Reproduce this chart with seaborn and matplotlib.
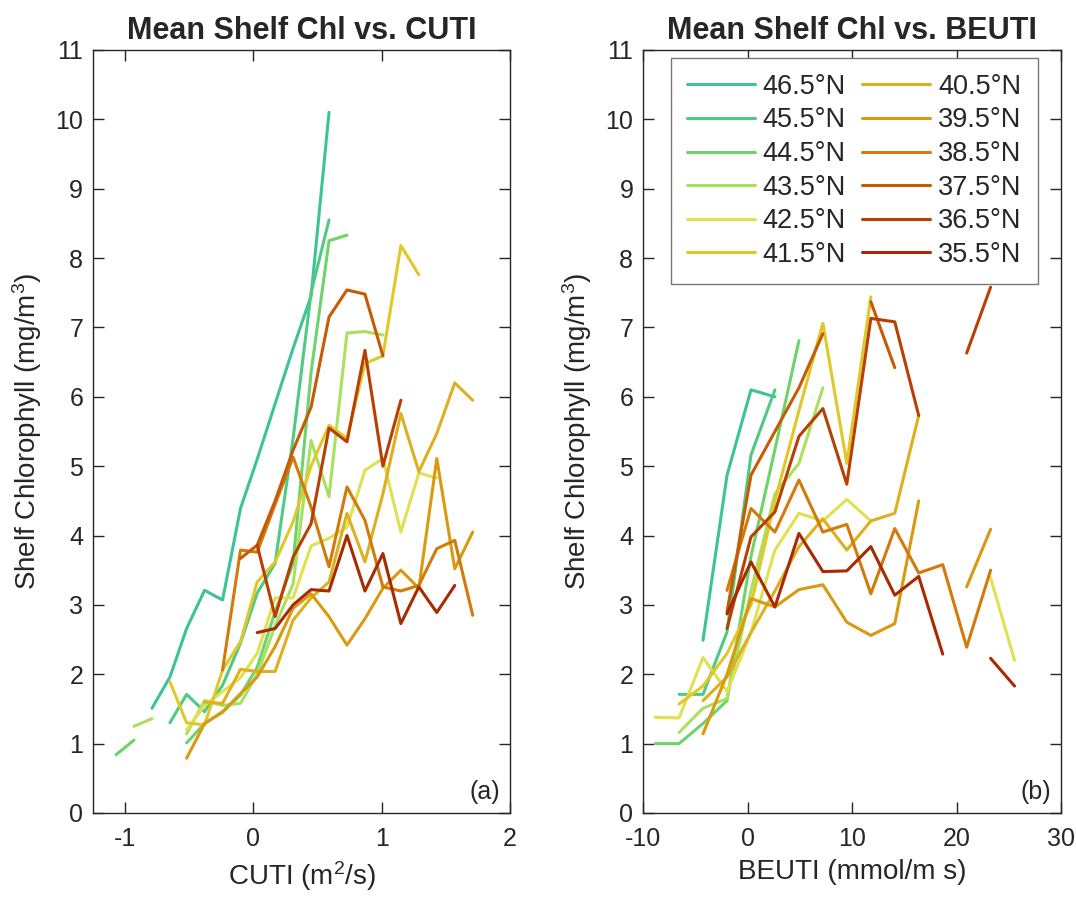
import numpy as np
import pandas as pd
import matplotlib
matplotlib.use("Agg")
import matplotlib.pyplot as plt
import seaborn as sns

N = np.nan

LAT_LABELS = ["46.5°N", "45.5°N", "44.5°N", "43.5°N", "42.5°N", "41.5°N",
              "40.5°N", "39.5°N", "38.5°N", "37.5°N", "36.5°N", "35.5°N"]
LAT_COLORS = ["#3cc39a", "#4fca83", "#6dd36a", "#a8e060", "#e0e050", "#e0c828",
              "#ddb020", "#d99a10", "#d27a0a", "#c65a05", "#b84005", "#a82a02"]

# CUTI bin centres (m^2/s)
CUTI_BINS = [-1.07, -0.93, -0.79, -0.65, -0.52, -0.38, -0.24, -0.10, 0.03, 0.17, 0.31,
             0.45, 0.59, 0.73, 0.87, 1.01, 1.15, 1.29, 1.43, 1.57, 1.71]

# Mean shelf chlorophyll per CUTI bin (mg/m^3)
CUTI_465 = [N, N, 1.51, 1.96, 2.66, 3.21, 3.07, 4.39, 5.10, 5.90, 6.70, 7.45, 10.10, N, N, N, N, N, N, N, N]
CUTI_455 = [N, N, N, 1.30, 1.71, 1.46, 1.84, 2.45, 3.17, 3.60, 5.40, 7.50, 8.55, N, N, N, N, N, N, N, N]
CUTI_445 = [0.84, 1.05, N, N, 1.01, 1.29, 1.45, 1.70, 2.10, 2.90, 3.60, 6.35, 8.25, 8.33, N, N, N, N, N, N, N]
CUTI_435 = [N, 1.25, 1.36, N, 1.14, 1.62, 1.55, 1.58, 2.00, 2.70, 3.30, 5.37, 4.56, 6.92, 6.94, 6.89, N, N, N, N, N]
CUTI_425 = [N, N, N, N, 1.20, 1.55, 1.75, 1.95, 2.30, 3.10, 3.10, 3.85, 3.96, 4.12, 4.94, 5.11, 4.05, 4.90, 4.83, N, N]
CUTI_415 = [N, N, N, 1.89, 1.30, 1.27, 2.06, 2.47, 3.33, 3.62, 4.20, 5.00, 5.59, 5.40, 6.48, 6.59, 8.18, 7.76, N, N, N]
CUTI_405 = [N, N, N, N, N, 1.60, 1.58, 2.07, 2.04, 2.04, 2.78, 3.10, 3.33, 4.32, 3.62, 4.60, 5.76, 4.92, 5.47, 6.20, 5.95]
CUTI_395 = [N, N, N, N, 0.79, 1.29, 1.46, 1.72, 1.96, 2.40, 2.95, 3.16, 2.83, 2.42, 2.80, 3.24, 3.50, 3.24, 5.11, 3.52, 4.05]
CUTI_385 = [N, N, N, N, N, N, 2.06, 3.79, 3.76, 4.45, 5.13, 4.41, 3.55, 4.70, 4.22, 3.26, 3.20, 3.28, 3.81, 3.93, 2.85]
CUTI_375 = [N, N, N, N, N, N, N, 3.67, 3.86, 4.50, 5.23, 5.85, 7.15, 7.54, 7.48, 6.59, N, N, N, N, N]
CUTI_365 = [N, N, N, N, N, N, N, N, 3.86, 2.83, 3.69, 4.17, 5.55, 5.35, 6.67, 5.00, 5.95, N, N, N, N]
CUTI_355 = [N, N, N, N, N, N, N, N, 2.60, 2.66, 3.00, 3.22, 3.20, 4.00, 3.20, 3.74, 2.73, 3.26, 2.89, 3.28, N]

# BEUTI bin centres (mmol/m s)
BEUTI_BINS = [-8.84, -6.55, -4.26, -1.96, 0.33, 2.62, 4.92, 7.21, 9.50, 11.80, 14.09,
              16.38, 18.68, 20.97, 23.26, 25.55]

BEUTI_465 = [N, N, 2.49, 4.87, 6.10, 6.00, N, N, N, N, N, N, N, N, N, N]
BEUTI_455 = [N, 1.71, 1.71, 2.61, 5.16, 6.10, N, N, N, N, N, N, N, N, N, N]
BEUTI_445 = [1.00, 1.00, 1.29, 1.62, 3.70, 5.24, 6.81, N, N, N, N, N, N, N, N, N]
BEUTI_435 = [N, 1.16, 1.51, 1.65, 3.20, 4.60, 5.04, 6.13, N, N, N, N, N, N, N, N]
BEUTI_425 = [1.38, 1.37, 2.24, 1.75, 2.60, 3.79, 4.32, 4.21, 4.52, 4.21, N, N, N, N, 3.39, 2.20]
BEUTI_415 = [N, 1.57, 1.83, 2.30, 3.00, 4.50, 5.80, 7.06, 5.04, 7.44, N, N, N, N, N, N]
BEUTI_405 = [N, N, 1.62, 1.96, 2.60, 3.20, 3.84, 4.24, 3.79, 4.21, 4.32, 5.73, N, N, N, N]
BEUTI_395 = [N, N, 1.14, 2.00, 3.09, 2.97, 3.22, 3.29, 2.75, 2.56, 2.73, 4.50, N, 3.26, 4.09, N]
BEUTI_385 = [N, N, N, 3.21, 4.39, 4.05, 4.80, 4.05, 4.16, 3.16, 4.10, 3.46, 3.58, 2.39, 3.50, N]
BEUTI_375 = [N, N, N, 2.90, 4.87, 5.50, 6.13, 6.91, N, 7.37, 6.42, N, N, N, N, N]
BEUTI_365 = [N, N, N, 2.66, 3.98, 4.34, 5.43, 5.83, 4.74, 7.13, 7.08, 5.73, N, 6.63, 7.58, N]
BEUTI_355 = [N, N, N, 2.87, 3.62, 2.97, 4.03, 3.48, 3.49, 3.84, 3.14, 3.41, 2.29, N, 2.23, 1.83]

CUTI_SERIES = [CUTI_465, CUTI_455, CUTI_445, CUTI_435, CUTI_425, CUTI_415,
               CUTI_405, CUTI_395, CUTI_385, CUTI_375, CUTI_365, CUTI_355]
BEUTI_SERIES = [BEUTI_465, BEUTI_455, BEUTI_445, BEUTI_435, BEUTI_425, BEUTI_415,
                BEUTI_405, BEUTI_395, BEUTI_385, BEUTI_375, BEUTI_365, BEUTI_355]


def to_long(bins, series_list):
    rows = []
    for lab, vals in zip(LAT_LABELS, series_list):
        seg = 0
        prev_nan = True
        for xv, yv in zip(bins, vals):
            if np.isnan(yv):
                prev_nan = True
                continue
            if prev_nan:
                seg += 1
                prev_nan = False
            rows.append({"x": xv, "y": yv, "lat": lab, "seg": f"{lab}-{seg}"})
    return pd.DataFrame(rows)


df_cuti = to_long(CUTI_BINS, CUTI_SERIES)
df_beuti = to_long(BEUTI_BINS, BEUTI_SERIES)
palette = dict(zip(LAT_LABELS, LAT_COLORS))

sns.set_style("ticks")
plt.rcParams["font.family"] = ["Liberation Sans", "DejaVu Sans"]
plt.rcParams["mathtext.fontset"] = "custom"
plt.rcParams["mathtext.rm"] = "Liberation Sans"
plt.rcParams["mathtext.it"] = "Liberation Sans:italic"

FS_TICK = 18
FS_LAB = 20
FS_TITLE = 22
FS_LEG = 19.5
TXT = "#262626"

fig = plt.figure(figsize=(10.76, 9), dpi=100)
ax1 = fig.add_axes([0.0864, 0.0967, 0.3875, 0.8478])
ax2 = fig.add_axes([0.5976, 0.0967, 0.3885, 0.8478])

LW = 2.2
sns.lineplot(data=df_cuti, x="x", y="y", hue="lat", units="seg", estimator=None,
             palette=palette, hue_order=LAT_LABELS, linewidth=LW, sort=False,
             legend=False, ax=ax1)
sns.lineplot(data=df_beuti, x="x", y="y", hue="lat", units="seg", estimator=None,
             palette=palette, hue_order=LAT_LABELS, linewidth=LW, sort=False,
             legend=True, ax=ax2)

for ax in (ax1, ax2):
    ax.set_ylim(0, 11)
    ax.set_yticks(range(0, 12))
    ax.tick_params(direction="in", length=8, width=1, top=True, right=True,
                   labelsize=FS_TICK, colors=TXT, pad=7)
    ax.tick_params(axis="x", pad=10)
    for s in ax.spines.values():
        s.set_visible(True)
        s.set_linewidth(1.0)
        s.set_color(TXT)
    ax.set_ylabel("Shelf Chlorophyll (mg/m$^3$)", fontsize=FS_LAB, color=TXT, labelpad=8)

ax1.set_xlim(-1.25, 2)
ax1.set_xticks([-1, 0, 1, 2])
ax1.set_xticklabels(["-1", "0", "1", "2"])
ax2.set_xlim(-10, 30)
ax2.set_xticks([-10, 0, 10, 20, 30])
ax2.set_xticklabels(["-10", "0", "10", "20", "30"])

ax1.set_xlabel("CUTI (m$^2$/s)", fontsize=FS_LAB, color=TXT, labelpad=6)
ax2.set_xlabel("BEUTI (mmol/m s)", fontsize=FS_LAB, color=TXT, labelpad=6)
ax1.set_title("Mean Shelf Chl vs. CUTI", fontsize=FS_TITLE, fontweight="bold", pad=8)
ax2.set_title("Mean Shelf Chl vs. BEUTI", fontsize=FS_TITLE, fontweight="bold", pad=8)

ax1.text(0.976, 0.012, "(a)", transform=ax1.transAxes, ha="right", va="bottom", fontsize=FS_TICK)
ax2.text(0.976, 0.012, "(b)", transform=ax2.transAxes, ha="right", va="bottom", fontsize=FS_TICK)

handles, labels = ax2.get_legend_handles_labels()
leg = ax2.legend(handles, labels, ncol=2, loc="upper right", bbox_to_anchor=(0.945, 0.99),
                 fontsize=FS_LEG, frameon=True, fancybox=False, framealpha=1,
                 edgecolor="#777777", handlelength=2.5, handletextpad=0.3,
                 columnspacing=0.6, labelspacing=0.28, borderpad=0.6, borderaxespad=0)
leg.get_frame().set_linewidth(1.0)
for h in leg.get_lines():
    h.set_linewidth(LW)

fig.savefig("out.png", dpi=100)
